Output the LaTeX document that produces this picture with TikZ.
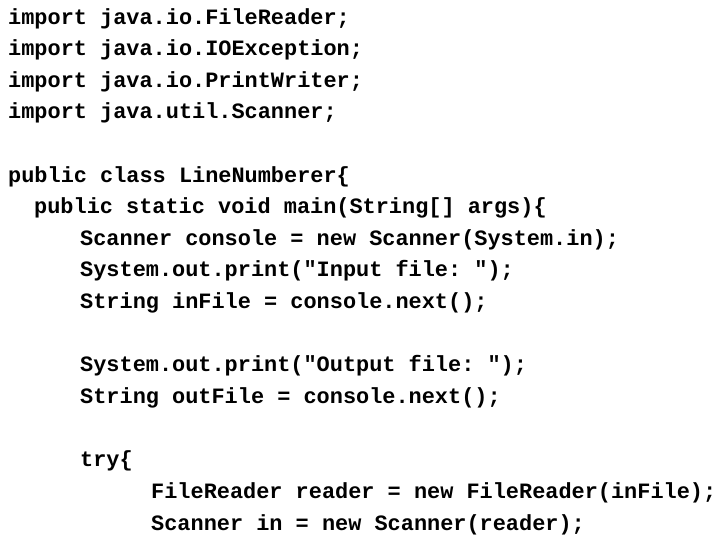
\documentclass[tikz,border=0pt]{standalone}
\usepackage{fontspec}
\setmonofont{Liberation Mono}
\begin{document}
\begin{tikzpicture}[x=1pt,y=1pt,code/.style={anchor=base west,inner sep=0pt,font=\ttfamily\bfseries\fontsize{21.9}{24}\selectfont}]
\useasboundingbox (0,0) rectangle (720,540);
\def\L#1#2#3#4{\node[code] (#1) at (#2,{540-#3-7.5}) {#4};}
\L{a}{8}{17}{import java.io.FileReader;}
\L{b}{8}{48}{import java.io.IOException;}
\L{c}{8}{80}{import java.io.PrintWriter;}
\L{d}{8}{111}{import java.util.Scanner;}
\L{e}{8}{175}{public class LineNumberer\{}
\L{f}{34}{206}{public static void main(String[] args)\{}
\L{g}{80}{238}{Scanner console = new Scanner(System.in);}
\L{h}{80}{269}{System.out.print("Input file: ");}
\L{i}{80}{301}{String inFile = console.next();}
\L{j}{80}{364}{System.out.print("Output file: ");}
\L{k}{80}{396}{String outFile = console.next();}
\L{l}{80}{459}{try\{}
\L{m}{151}{491}{FileReader reader = new FileReader(inFile);}
\L{n}{151}{523}{Scanner in = new Scanner(reader);}
\end{tikzpicture}
\end{document}
